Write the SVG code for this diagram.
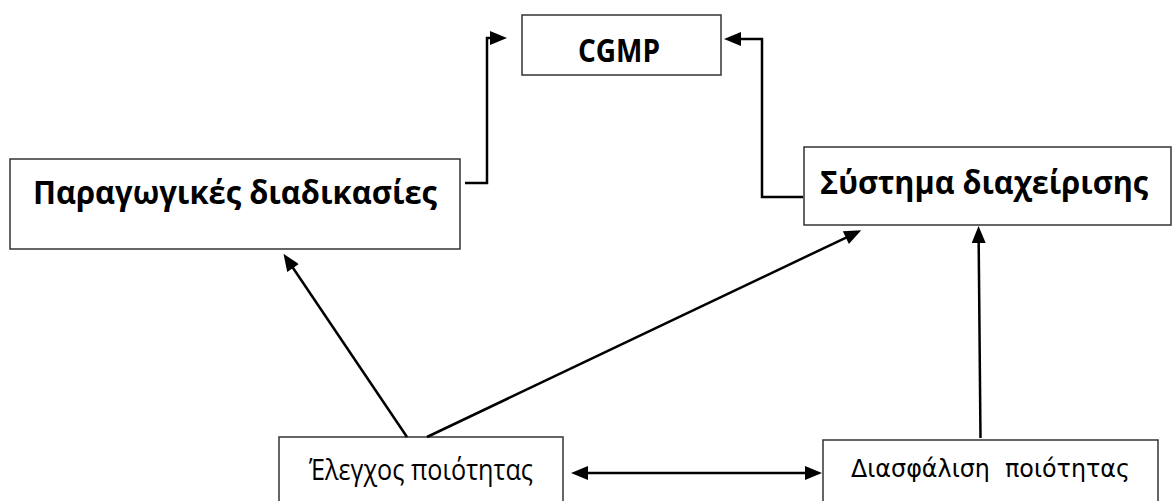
<svg xmlns="http://www.w3.org/2000/svg" width="1173" height="501" viewBox="0 0 1173 501">
<style>
.box{fill:#fff;stroke:#333;stroke-width:1.5}
.b{font-family:"Open Sans","Liberation Sans",sans-serif;font-weight:bold;font-size:32px;fill:#000}
.r{font-family:"Open Sans","Liberation Sans",sans-serif;font-size:29px;fill:#000}
.d{font-family:"DejaVu Sans","Liberation Sans",sans-serif;font-size:24px;fill:#000}
.c{fill:none;stroke:#000;stroke-width:2.5}
</style>
<defs>
<marker id="ah" markerUnits="userSpaceOnUse" markerWidth="18" markerHeight="14" refX="9" refY="7" orient="auto-start-reverse" viewBox="0 0 17 14">
<path d="M0,0 L17,7 L0,14 z" fill="#000"/>
</marker>
</defs>
<rect width="1173" height="501" fill="#fff"/>
<g id="cgmp">
<rect class="box" x="522" y="15" width="199" height="60"/>
<text class="b" x="578" y="62" textLength="82" lengthAdjust="spacingAndGlyphs">CGMP</text>
</g>
<g id="paragogikes">
<rect class="box" x="10" y="159" width="450" height="90"/>
<text class="b" x="33" y="204" textLength="404" lengthAdjust="spacingAndGlyphs">Παραγωγικές διαδικασίες</text>
</g>
<g id="systima">
<rect class="box" x="804" y="147" width="367" height="78"/>
<text class="b" x="820" y="194" textLength="328" lengthAdjust="spacingAndGlyphs">Σύστημα διαχείρισης</text>
</g>
<g id="elegxos">
<rect class="box" x="279" y="437" width="284" height="80"/>
<text class="r" x="309" y="480" textLength="224" lengthAdjust="spacingAndGlyphs">Έλεγχος ποιότητας</text>
</g>
<g id="diasfalisi">
<rect class="box" x="823" y="440" width="335" height="80"/>
<text class="d" x="851" y="477" textLength="279" lengthAdjust="spacingAndGlyphs" xml:space="preserve">Διασφάλιση  ποιότητας</text>
</g>
<g id="connectors">
<path class="c" d="M465,183 H487 V38 H499" marker-end="url(#ah)"/>
<path class="c" d="M803,197 H762 V39 H732" marker-end="url(#ah)"/>
<path class="c" d="M407,437 L288,260.5" marker-end="url(#ah)"/>
<path class="c" d="M427,437 L854,233.8" marker-end="url(#ah)"/>
<path class="c" d="M980.5,438 L978.6,234" marker-end="url(#ah)"/>
<path class="c" d="M579,473 H814" marker-start="url(#ah)" marker-end="url(#ah)"/>
</g>
</svg>
